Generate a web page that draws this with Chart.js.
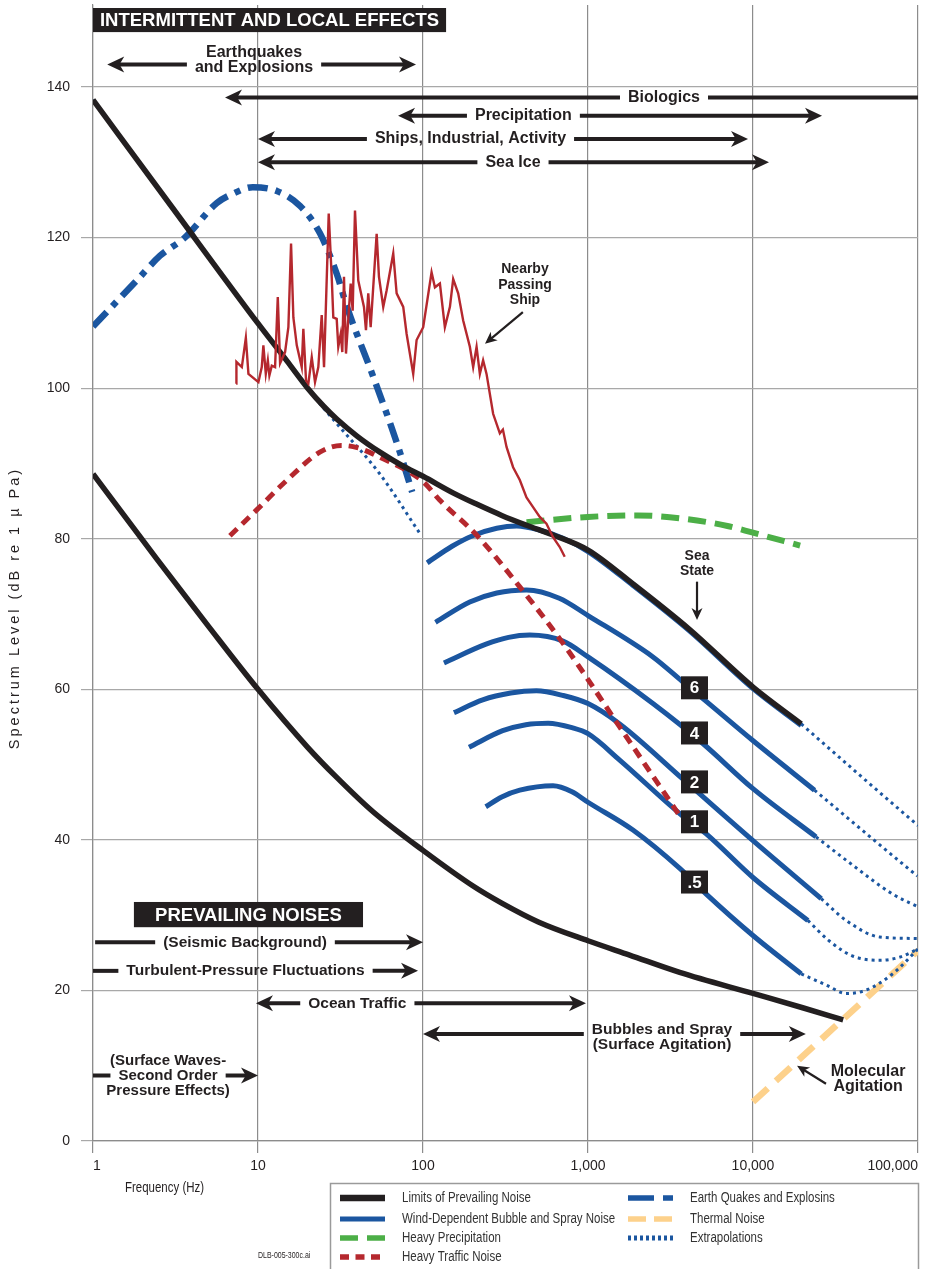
<!DOCTYPE html>
<html>
<head>
  <script src="https://cdn.jsdelivr.net/npm/chart.js"></script>
  <style>
    html, body { margin: 0; padding: 0; background: #fff; }
    #wrap { width: 928px; height: 1269px; }
  </style>
</head>
<body>
  <div id="wrap"><canvas id="wenz"></canvas></div>

  <script>
    // Axis ticks
    var xTickValues = [1, 10, 100, 1000, 10000, 100000];
    var xTickLabels = ['1', '10', '100', '1,000', '10,000', '100,000'];
    var yTickValues = [0, 20, 40, 60, 80, 100, 120, 140];

    // Curves, as [frequency Hz, spectrum level dB re 1 uPa]
    var upperLimit = [[1, 138.3], [3, 124.1], [10, 108.6], [15, 103.6], [20, 100.0], [25, 97.6], [30, 95.9],
      [40, 93.6], [54.8, 91.5], [75, 89.7], [100, 88.3], [152, 86.1], [211, 84.6], [300, 83.1], [424, 81.8],
      [614, 80.5], [1000, 78.5], [1873, 74.0], [4100, 68.0], [10000, 60.3], [19600, 55.4]];
    var lowerLimit = [[1, 88.6], [2.44, 77.3], [5, 68.4], [10, 60.0], [20, 52.3], [30, 48.3], [50, 43.7],
      [100, 38.6], [200, 33.9], [300, 31.6], [500, 29.1], [1000, 26.6], [1788, 24.7], [3595, 22.4],
      [10000, 19.6], [20000, 17.7], [35200, 16.1]];
    var quakes = [[1, 108.2], [1.84, 114.3], [2.55, 117.6], [3.6, 120.0], [5.63, 124.6], [7, 125.8],
      [9.3, 126.7], [13, 126.2], [18, 124.2], [23.7, 120.6], [30, 115.2], [34.6, 110.8], [50, 101.5],
      [70, 92.5], [86, 86.2]];
    var traffic = [[6.76, 80.4], [10, 84.0], [15, 87.8], [23.7, 91.5], [32, 92.4], [40, 92.1], [55, 90.8],
      [100, 87.6], [126.6, 85.1], [211, 80.5], [386, 73.6], [706, 66.1], [1556, 55.0], [3595, 43.2]];
    var precipitation = [[424, 82.2], [1000, 82.9], [2000, 83.1], [4000, 82.6], [7000, 81.7],
      [10000, 80.8], [19300, 79.1]];
    var thermal = [[10000, 5.2], [100000, 25.3]];

    // wind-dependent bubble and spray noise (top one runs under the upper limit)
    var windTop = [[106, 76.8], [150, 79.0], [200, 80.4], [280, 81.4], [370, 81.7], [500, 81.2], [700, 80.1],
      [1000, 78.3], [1873, 73.8], [4100, 67.8], [10000, 60.1], [19600, 55.2]];
    var wind6 = [[119, 68.9], [192, 71.6], [280, 72.8], [424, 73.2], [670, 72.1], [1000, 69.8], [2475, 64.3],
      [3750, 61.0], [5208, 58.4], [9973, 53.2], [23600, 46.6]];
    var wind4 = [[134, 63.5], [241, 66.0], [330, 66.9], [444, 67.2], [706, 66.4], [1000, 64.3], [2475, 58.1],
      [4966, 52.8], [10000, 46.8], [24100, 40.4]];
    var wind2 = [[154, 56.9], [230, 58.6], [340, 59.5], [487, 59.8], [700, 59.2], [1000, 58.1], [1556, 55.4],
      [3750, 48.1], [10000, 39.9], [25900, 32.2]];
    var wind1 = [[190, 52.3], [304, 54.5], [420, 55.3], [573, 55.5], [800, 54.9], [1000, 54.1], [1556, 50.6],
      [3595, 43.5], [5208, 40.8], [10000, 35.0], [21500, 29.3]];
    var windHalf = [[240, 44.4], [300, 45.7], [386, 46.6], [614, 47.2], [800, 46.4], [1000, 45.0], [1873, 41.3],
      [3600, 36.2], [5208, 32.8], [10000, 27.3], [19600, 22.2]];

    // extrapolations (dotted)
    var extLowFreq = [[1, 138.3], [10, 108.6], [20, 99.9], [30, 95.3], [54.8, 88.6], [95.8, 80.7]];
    var extUpper = [[19600, 55.4], [50000, 47.6], [100000, 41.9]];
    var ext6 = [[23600, 46.6], [50000, 40.6], [99000, 35.2]];
    var ext4 = [[24100, 40.4], [36700, 37.3], [70200, 32.8], [100000, 31.1]];
    var ext2 = [[25900, 32.2], [36700, 29.3], [58500, 27.1], [100000, 26.9]];
    var ext1 = [[21500, 29.3], [28900, 26.6], [39900, 24.6], [58500, 24.0], [77000, 24.4], [100000, 25.5]];
    var extHalf = [[19600, 22.2], [27900, 20.7], [36700, 19.6], [47900, 20.0], [70200, 22.2], [100000, 25.5]];

    // nearby passing ship
    var ship = [[7.37, 100.6], [7.40, 103.5], [7.98, 102.8], [8.44, 106.7], [8.75, 101.9], [10.06, 100.8],
      [10.54, 102.8], [10.78, 105.7], [11.15, 101.9], [11.47, 103.7], [11.72, 101.7], [12.12, 103.0],
      [12.69, 102.8], [13.18, 112.1], [13.61, 103.3], [14.59, 104.8], [15.28, 108.1], [15.86, 119.2],
      [16.38, 109.4], [17.18, 105.7], [18.41, 102.8], [18.83, 107.9], [19.55, 101.0], [20.19, 100.6],
      [21.17, 104.1], [22.16, 100.8], [23.21, 102.8], [24.33, 109.7], [25.13, 102.8], [26.83, 123.2],
      [27.97, 114.8], [28.6, 109.4], [29.99, 109.2], [30.66, 105.5], [31.71, 107.2], [32.43, 104.8],
      [33.2, 114.8], [34.14, 104.6], [36.45, 113.9], [37.48, 110.3], [38.71, 123.6], [40.53, 114.3],
      [43.87, 110.8], [45.11, 107.7], [46.59, 112.6], [48.17, 108.1], [52.38, 120.5], [54.09, 114.8],
      [57.43, 110.8], [60.22, 113.0], [66.02, 117.9], [69.22, 112.6], [75.89, 110.8], [79.58, 107.2],
      [87.24, 101.9], [91.47, 106.4], [100.3, 108.1], [112.7, 115.4], [118.1, 113.4], [126.6, 113.9],
      [135.7, 108.1], [145.6, 110.8], [152.4, 114.5], [163.4, 112.6], [175.2, 109.0], [192.3, 105.5],
      [201.4, 102.8], [211.2, 105.5], [221.1, 101.9], [231.4, 103.7], [242.7, 101.9], [266.1, 96.6],
      [292.2, 94.0], [305, 94.5], [320.8, 92.2], [351.6, 89.5], [386.1, 87.8], [423.8, 85.5],
      [464.6, 84.2], [510.2, 82.9], [560.1, 82.0], [614, 80.2], [674.3, 78.9], [722.6, 77.6]];

    // sea state labels
    var seaStates = ['6', '4', '2', '1', '.5'];
    var seaStateDb = [60.2, 54.2, 47.7, 42.4, 34.4];
    var seaStateFreq = 4420;

    var BLACK = '#231f20', BLUE = '#1b56a0', RED = '#b5282e', GREEN = '#4caf47', ORANGE = '#fdd18b';
    var FONT = '"Liberation Sans", Arial, Helvetica, sans-serif';

    function series(points) {
      return points.map(function (p) { return { x: p[0], y: p[1] }; });
    }

    function curve(label, points, color, width, dash, order, smooth) {
      return {
        label: label,
        data: series(points),
        borderColor: color,
        borderWidth: width,
        borderDash: dash,
        borderCapStyle: 'butt',
        cubicInterpolationMode: smooth ? 'monotone' : 'default',
        tension: 0,
        pointRadius: 0,
        fill: false,
        order: order
      };
    }

    var dotted = [3, 4];
    var datasets = [
      curve('Nearby Passing Ship', ship, RED, 2.4, [], 0, false),
      curve('Limits of Prevailing Noise', upperLimit, BLACK, 5.5, [], 1, true),
      curve('Limits of Prevailing Noise (low)', lowerLimit, BLACK, 5.5, [], 1, true),
      curve('Heavy Traffic Noise', traffic, RED, 5, [10, 7], 2, true),
      curve('Heavy Precipitation', precipitation, GREEN, 6, [18, 9], 3, true),
      curve('Earth Quakes and Explosins', quakes, BLUE, 6.5, [20, 8, 6, 8], 4, true),
      curve('Wind', windTop, BLUE, 5, [], 5, true),
      curve('Wind 6', wind6, BLUE, 5, [], 5, true),
      curve('Wind 4', wind4, BLUE, 5, [], 5, true),
      curve('Wind 2', wind2, BLUE, 5, [], 5, true),
      curve('Wind 1', wind1, BLUE, 5, [], 5, true),
      curve('Wind .5', windHalf, BLUE, 5, [], 5, true),
      curve('Extrapolation', extLowFreq, BLUE, 3, dotted, 6, true),
      curve('Extrapolation', extUpper, BLUE, 3, dotted, 6, true),
      curve('Extrapolation', ext6, BLUE, 3, dotted, 6, true),
      curve('Extrapolation', ext4, BLUE, 3, dotted, 6, true),
      curve('Extrapolation', ext2, BLUE, 3, dotted, 6, true),
      curve('Extrapolation', ext1, BLUE, 3, dotted, 6, true),
      curve('Extrapolation', extHalf, BLUE, 3, dotted, 6, true),
      curve('Thermal Noise', thermal, ORANGE, 6.5, [20, 11], 7, false)
    ];

    // frequency ranges of the noise sources (arrows); gap = index of the line the arrow runs through
    var ranges = [
      { lines: ['Earthquakes', 'and Explosions'], dy: [-12, 3], gap: 1, from: 1.22, to: 90.7, db: 143.0, at: 9.46, left: true, right: true, size: 16 },
      { lines: ['Biologics'], dy: [0], gap: 0, from: 6.31, to: 100000, db: 138.6, at: 2888, left: true, right: false, size: 16 },
      { lines: ['Precipitation'], dy: [0], gap: 0, from: 70.6, to: 26200, db: 136.2, at: 406, left: true, right: true, size: 16 },
      { lines: ['Ships, Industrial, Activity'], dy: [0], gap: 0, from: 10, to: 9330, db: 133.1, at: 194, left: true, right: true, size: 16 },
      { lines: ['Sea Ice'], dy: [0], gap: 0, from: 10, to: 12500, db: 130.0, at: 351, left: true, right: true, size: 16 },
      { lines: ['(Seismic Background)'], dy: [0], gap: 0, from: 1.03, to: 100, db: 26.4, at: 8.34, left: false, right: true, size: 15.5 },
      { lines: ['Turbulent-Pressure Fluctuations'], dy: [0], gap: 0, from: 1, to: 93.3, db: 22.6, at: 8.4, left: false, right: true, size: 15.5 },
      { lines: ['Ocean Traffic'], dy: [0], gap: 0, from: 9.72, to: 972, db: 18.3, at: 40, left: true, right: true, size: 15.5 },
      { lines: ['Bubbles and Spray', '(Surface Agitation)'], dy: [-4, 11], gap: 0, from: 100, to: 20900, db: 14.2, at: 2809, left: true, right: true, size: 15.5 },
      { lines: ['(Surface Waves-', 'Second Order', 'Pressure Effects)'], dy: [-15, 0, 15], gap: 1, from: 1, to: 10, db: 8.7, at: 2.85, left: false, right: true, size: 15 }
    ];

    function arrowHead(ctx, x, y, angle, len, half) {
      ctx.save();
      ctx.translate(x, y);
      ctx.rotate(angle);
      ctx.beginPath();
      ctx.moveTo(0, 0);
      ctx.lineTo(-len, -half);
      ctx.lineTo(-len * 0.72, 0);
      ctx.lineTo(-len, half);
      ctx.closePath();
      ctx.fill();
      ctx.restore();
    }

    function hLine(ctx, x1, x2, y) {
      if (x2 <= x1) return;
      ctx.beginPath();
      ctx.moveTo(x1, y);
      ctx.lineTo(x2, y);
      ctx.stroke();
    }

    // narrow text: regular face squeezed horizontally
    function narrowText(ctx, text, x, y, size) {
      ctx.save();
      ctx.translate(x, y);
      ctx.scale(0.82, 1);
      ctx.font = size + 'px ' + FONT;
      ctx.fillText(text, 0, 0);
      ctx.restore();
    }

    var overlay = {
      id: 'wenzOverlay',
      afterDatasetsDraw: function (chart) {
        var ctx = chart.ctx, xs = chart.scales.x, ys = chart.scales.y;
        function X(f) { return xs.getPixelForValue(f); }
        function Y(v) { return ys.getPixelForValue(v); }
        ctx.save();
        ctx.textAlign = 'center';
        ctx.textBaseline = 'middle';

        // range arrows
        ranges.forEach(function (r) {
          var y = Y(r.db), x1 = X(r.from), x2 = X(r.to), xc = X(r.at);
          ctx.font = 'bold ' + r.size + 'px ' + FONT;
          var w = ctx.measureText(r.lines[r.gap]).width;
          var g1 = xc - w / 2 - 8, g2 = xc + w / 2 + 8;
          ctx.strokeStyle = BLACK;
          ctx.fillStyle = BLACK;
          ctx.lineWidth = 4;
          hLine(ctx, r.left ? x1 + 10 : x1, g1, y);
          hLine(ctx, g2, r.right ? x2 - 10 : x2, y);
          if (r.left) arrowHead(ctx, x1, y, Math.PI, 17, 8);
          if (r.right) arrowHead(ctx, x2, y, 0, 17, 8);
          r.lines.forEach(function (t, i) { ctx.fillText(t, xc, y + r.dy[i]); });
        });

        // pointer labels
        function pointer(lines, size, f, dbs, from, to) {
          ctx.font = 'bold ' + size + 'px ' + FONT;
          ctx.fillStyle = BLACK;
          lines.forEach(function (t, i) { ctx.fillText(t, X(f), Y(dbs[i])); });
          var ax = X(from[0]), ay = Y(from[1]), bx = X(to[0]), by = Y(to[1]);
          var a = Math.atan2(by - ay, bx - ax);
          ctx.strokeStyle = BLACK;
          ctx.lineWidth = 2.2;
          ctx.beginPath();
          ctx.moveTo(ax, ay);
          ctx.lineTo(bx - Math.cos(a) * 8, by - Math.sin(a) * 8);
          ctx.stroke();
          arrowHead(ctx, bx, by, a, 12, 5.5);
        }
        pointer(['Nearby', 'Passing', 'Ship'], 14, 415, [115.8, 113.7, 111.7], [403, 110.1], [237.5, 105.9]);
        pointer(['Sea', 'State'], 14, 4578, [77.7, 75.7], [4578, 74.3], [4578, 69.2]);
        pointer(['Molecular', 'Agitation'], 16, 49800, [9.2, 7.2], [27700, 7.6], [18500, 10.0]);

        // heading boxes
        function headBox(text, f1, f2, db1, db2) {
          var x1 = X(f1), x2 = X(f2), y1 = Y(db1), y2 = Y(db2);
          ctx.fillStyle = BLACK;
          ctx.fillRect(x1, y1, x2 - x1, y2 - y1);
          ctx.fillStyle = '#fff';
          ctx.font = 'bold 18.5px ' + FONT;
          ctx.fillText(text, (x1 + x2) / 2, (y1 + y2) / 2 + 1, x2 - x1 - 6);
        }
        headBox('INTERMITTENT AND LOCAL EFFECTS', 1, 138, 150.5, 147.3);
        headBox('PREVAILING NOISES', 1.77, 43.3, 31.75, 28.4);

        // sea state boxes
        ctx.font = 'bold 17px ' + FONT;
        seaStates.forEach(function (s, i) {
          var cx = X(seaStateFreq), cy = Y(seaStateDb[i]);
          ctx.fillStyle = BLACK;
          ctx.fillRect(cx - 13.5, cy - 11.5, 27, 23);
          ctx.fillStyle = '#fff';
          ctx.fillText(s, cx, cy + 1);
        });
        ctx.restore();
      },

      afterDraw: function (chart) {
        var ctx = chart.ctx;
        ctx.save();
        ctx.fillStyle = BLACK;

        // axis titles
        ctx.textAlign = 'center';
        ctx.textBaseline = 'middle';
        ctx.save();
        ctx.translate(15, 608);
        ctx.rotate(-Math.PI / 2);
        ctx.font = '14.5px ' + FONT;
        ctx.letterSpacing = '3px';
        ctx.fillText('Spectrum Level (dB re 1 \u00b5 Pa)', 0, 0);
        ctx.restore();
        ctx.textAlign = 'left';
        narrowText(ctx, 'Frequency (Hz)', 125, 1188, 14);
        narrowText(ctx, 'DLB-005-300c.ai', 258, 1256, 8.5);

        // legend
        ctx.strokeStyle = '#9a9a9a';
        ctx.lineWidth = 1.5;
        ctx.strokeRect(330.5, 1183.5, 588, 100);
        var items = [
          { x: 340, y: 1198, text: 'Limits of Prevailing Noise', color: BLACK, w: 6.5, dash: [] },
          { x: 340, y: 1219, text: 'Wind-Dependent Bubble and Spray Noise', color: BLUE, w: 5, dash: [] },
          { x: 340, y: 1238, text: 'Heavy Precipitation', color: GREEN, w: 5.5, dash: [18, 9] },
          { x: 340, y: 1257, text: 'Heavy Traffic Noise', color: RED, w: 5.5, dash: [9, 6.5] },
          { x: 628, y: 1198, text: 'Earth Quakes and Explosins', color: BLUE, w: 5.5, dash: [26, 9, 10, 9] },
          { x: 628, y: 1219, text: 'Thermal Noise', color: ORANGE, w: 5.5, dash: [18, 8] },
          { x: 628, y: 1238, text: 'Extrapolations', color: BLUE, w: 5, dash: [3, 3] }
        ];
        items.forEach(function (it) {
          ctx.strokeStyle = it.color;
          ctx.lineWidth = it.w;
          ctx.setLineDash(it.dash);
          ctx.beginPath();
          ctx.moveTo(it.x, it.y);
          ctx.lineTo(it.x + 45, it.y);
          ctx.stroke();
          ctx.setLineDash([]);
          ctx.fillStyle = '#333';
          narrowText(ctx, it.text, it.x + 62, it.y, 14);
        });
        ctx.restore();
      }
    };

    var config = {
      type: 'line',
      data: { datasets: datasets },
      options: {
        responsive: true,
        maintainAspectRatio: false,
        animation: false,
        events: [],
        layout: { padding: { top: 5, right: 10, bottom: 0, left: 0 } },
        plugins: { legend: { display: false }, tooltip: { enabled: false } },
        scales: {
          x: {
            type: 'logarithmic',
            min: 1,
            max: 100000,
            afterBuildTicks: function (s) { s.ticks = xTickValues.map(function (v) { return { value: v }; }); },
            afterFit: function (s) { s.height = 128; s.paddingLeft = 0; s.paddingRight = 0; },
            grid: { color: '#8c8c8c', lineWidth: 1.2, tickLength: 12 },
            border: { color: '#8c8c8c', width: 1.2 },
            ticks: {
              autoSkip: false,
              maxRotation: 0,
              align: 'inner',
              padding: 5,
              color: BLACK,
              font: { family: FONT, size: 14 },
              callback: function (v, i) { return xTickLabels[i]; }
            }
          },
          y: {
            min: 0,
            max: 150.9,
            afterBuildTicks: function (s) { s.ticks = yTickValues.map(function (v) { return { value: v }; }); },
            afterFit: function (s) { s.width = 93; s.paddingTop = 0; s.paddingBottom = 0; },
            grid: { color: '#a8a8a8', lineWidth: 1.2, tickLength: 12 },
            border: { color: '#8c8c8c', width: 1.2 },
            ticks: { padding: 11, color: BLACK, font: { family: FONT, size: 14 } }
          }
        }
      },
      plugins: [overlay]
    };

    new Chart(document.getElementById('wenz').getContext('2d'), config);
  </script>
</body>
</html>
